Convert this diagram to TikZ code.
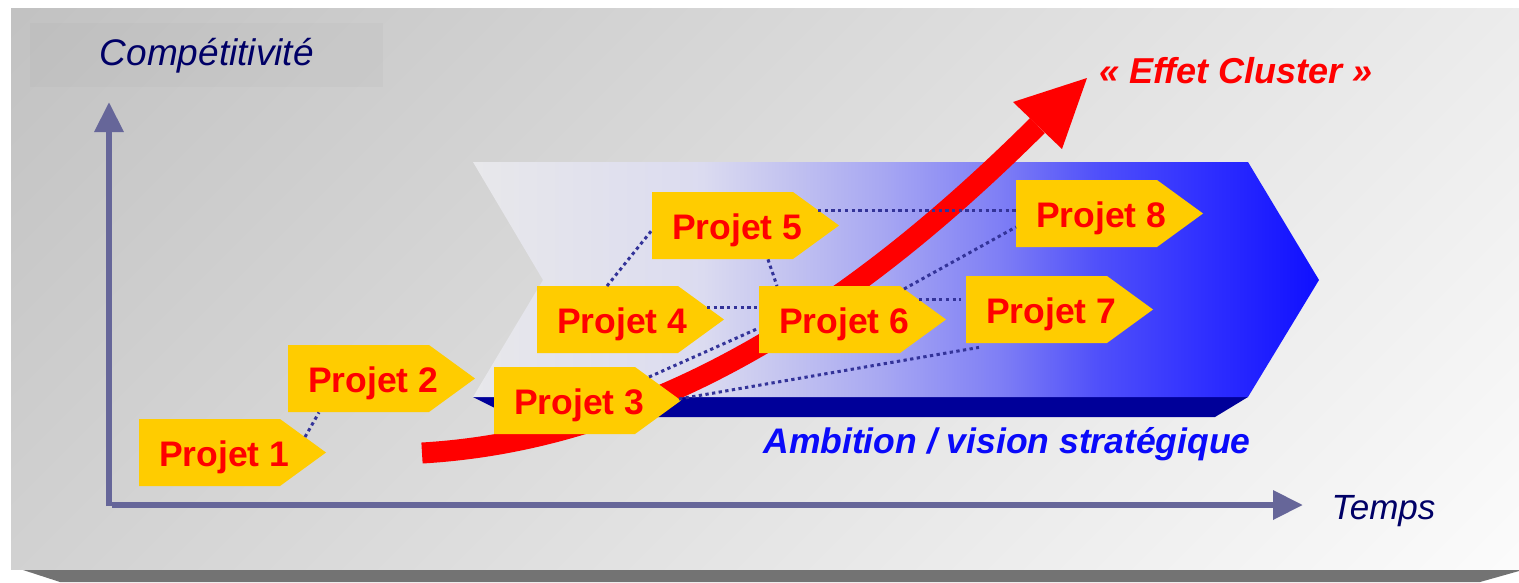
\documentclass[tikz,border=0pt]{standalone}
\usepackage{fontspec}
\setmainfont{Liberation Sans}
\usetikzlibrary{calc,arrows.meta}
\definecolor{projyellow}{HTML}{FFCC00}
\definecolor{projred}{HTML}{FF0000}
\definecolor{navytext}{HTML}{000066}
\definecolor{axiscol}{HTML}{666699}
\definecolor{linkcol}{HTML}{333399}
\definecolor{bandcol}{HTML}{000099}
\definecolor{ambblue}{HTML}{0A0AFA}
\definecolor{shadowcol}{HTML}{737373}
\pgfdeclarehorizontalshading{panelbg}{100bp}{rgb(0bp)=(0.76,0.76,0.76); rgb(14.6bp)=(0.76,0.76,0.76); rgb(85.4bp)=(0.985,0.985,0.985); rgb(100bp)=(0.985,0.985,0.985)}
\pgfdeclarehorizontalshading{ambition}{100bp}{rgb(0bp)=(0.91,0.91,0.92); rgb(25bp)=(0.91,0.91,0.92); rgb(38.5bp)=(0.86,0.86,0.94); rgb(42.75bp)=(0.78,0.78,0.94); rgb(49bp)=(0.66,0.66,0.95); rgb(56bp)=(0.5,0.5,0.96); rgb(62bp)=(0.31,0.31,0.98); rgb(68bp)=(0.19,0.19,1); rgb(75bp)=(0.06,0.06,1); rgb(100bp)=(0.06,0.06,1)}
\newcommand\projbox[4]{%
  \fill[projyellow] (#2,#3) -- ++(141,0) -- ++(46,33.5) -- ++(-46,33.5) -- ++(-141,0) -- cycle;
  \node[projlabel, anchor=north west] (#1) at (#2,#3) {\hspace*{-17pt}#4};
}
\begin{document}
\begin{tikzpicture}[x=1pt,y=-1pt,
  projlabel/.style={minimum width=187pt, minimum height=67pt, inner sep=0pt, text=projred,
    font=\fontsize{35.5pt}{40pt}\selectfont\bfseries, text height=27pt, text depth=0pt},
  link/.style={draw=linkcol, line width=3pt, dash pattern=on 3.3pt off 3.4pt},
  axisline/.style={draw=axiscol, line width=6.5pt, -{Triangle[length=30pt,width=28pt]}},
  redshaft/.style={draw=projred, line width=21pt, line cap=butt},
  axislabel/.style={text=navytext, font=\fontsize{36pt}{40pt}\selectfont\itshape, inner sep=0pt}
]
\useasboundingbox (0,0) rectangle (1519,582);
% panel shadow and panel
\fill[shadowcol] (20,569) -- (1519,569) -- (1519,571) -- (1480,582) -- (60,582) -- cycle;
\shade[shading=panelbg, shading angle=-45] (11,8) rectangle (1519,569);
% Competitivite label box
\node[fill=black, fill opacity=0.02, text opacity=1, minimum width=353pt, minimum height=64pt,
  inner sep=0pt, anchor=north west, text=navytext, font=\fontsize{37pt}{40pt}\selectfont\itshape,
  text height=26pt, text depth=5pt] (comp) at (30,23) {Compétitivité};
% axes
\coordinate (yorig) at (109,506);
\coordinate (ytip) at (109,102);
\coordinate (xorig) at (112,505);
\coordinate (xtip) at (1303,505);
\draw[axisline] (yorig) -- (ytip);
\draw[axisline] (xorig) -- (xtip);
% ambition shape
\fill[bandcol] (473,397) -- (1248,397) -- (1215,417) -- (513,417) -- cycle;
\shade[shading=ambition] (473,162) -- (1248,162) -- (1319,280) -- (1248,397) -- (473,397) -- (543,280) -- cycle;
% red arrow
\coordinate (redstart) at (422,453);
\coordinate (redend) at (1037.5,125.5);
\draw[redshaft] (redstart) .. controls (680,438) and (887,275) .. (redend);
\fill[projred] (1087,78) -- (1013,102) -- (1062,149) -- cycle;
% projects
\projbox{p1}{139}{419}{Projet 1}
\projbox{p2}{288}{345}{Projet 2}
\projbox{p3}{494}{367}{Projet 3}
\projbox{p4}{537}{286}{Projet 4}
\projbox{p5}{652}{192}{Projet 5}
\projbox{p6}{759}{286}{Projet 6}
\projbox{p7}{966}{276}{Projet 7}
\projbox{p8}{1016}{180}{Projet 8}
% links
\draw[link] ($(p1.north west)+(166,18)$) -- ($(p2.south west)+(31,0)$);
\draw[link] ($(p4.north west)+(70,0)$) -- ($(p5.north west)+(0,38)$);
\draw[link] ($(p5.south west)+(116,0)$) -- ($(p6.north west)+(18,0)$);
\draw[link] ($(p4.north west)+(170,21)$) -- ($(p6.north west)+(0,21)$);
\draw[link] ($(p3.north west)+(155,10)$) -- ($(p6.north west)+(0,42)$);
\draw[link] ($(p3.north west)+(185,32)$) -- ($(p7.south west)+(13,4)$);
\draw[link] ($(p5.north west)+(166,18)$) -- ($(p8.north west)+(0,30)$);
\draw[link] ($(p6.north west)+(145,3)$) -- ($(p8.north west)+(0,47)$);
\draw[link] ($(p6.north west)+(160,13)$) -- ($(p7.north west)+(-5,23)$);
% texts
\node[axislabel, font=\fontsize{35pt}{40pt}\selectfont\itshape, anchor=base] (temps) at (1383.5,519) {Temps};
\node[text=ambblue, font=\fontsize{35.5pt}{40pt}\selectfont\bfseries\itshape, inner sep=0pt, anchor=base] (ambition) at (1007,453) {Ambition / vision stratégique};
\node[text=projred, font=\fontsize{36pt}{40pt}\selectfont\bfseries\itshape, inner sep=0pt, anchor=base] (effet) at (1236,83) {« Effet Cluster »};
\end{tikzpicture}
\end{document}
